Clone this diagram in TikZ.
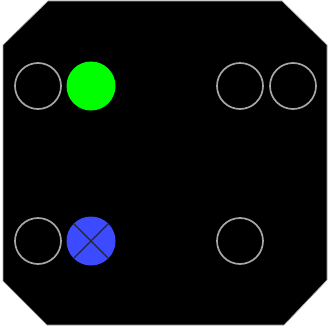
\documentclass[tikz,border=0pt]{standalone}
\begin{document}
\begin{tikzpicture}[x=1pt,y=-1pt,
  lamp/.style={circle,draw=gray!70,line width=1.7pt,minimum size=46pt,inner sep=0pt},
  greenlamp/.style={circle,fill={rgb,255:red,0;green,255;blue,0},minimum size=49pt,inner sep=0pt},
  bluelamp/.style={circle,fill={rgb,255:red,60;green,75;blue,255},minimum size=49pt,inner sep=0pt}]
\useasboundingbox[fill=white] (0,0) rectangle (328,326);
\fill[black,draw=gray!70,line width=0.6pt] (48,1) -- (282,1) -- (327,45) -- (327,280) -- (284,325) -- (47,325) -- (3,281) -- (3,45) -- cycle;
\node[lamp] (l1) at (38,86) {};
\node[greenlamp] (g1) at (91,86) {};
\node[lamp] (r1) at (240,86) {};
\node[lamp] (r2) at (293,86) {};
\node[lamp] (l2) at (38,241) {};
\node[bluelamp] (b1) at (91,241) {};
\node[lamp] (r3) at (240,241) {};
\draw[black!85,line width=1.4pt] (b1.north west) -- (b1.south east) (b1.north east) -- (b1.south west);
\end{tikzpicture}
\end{document}
